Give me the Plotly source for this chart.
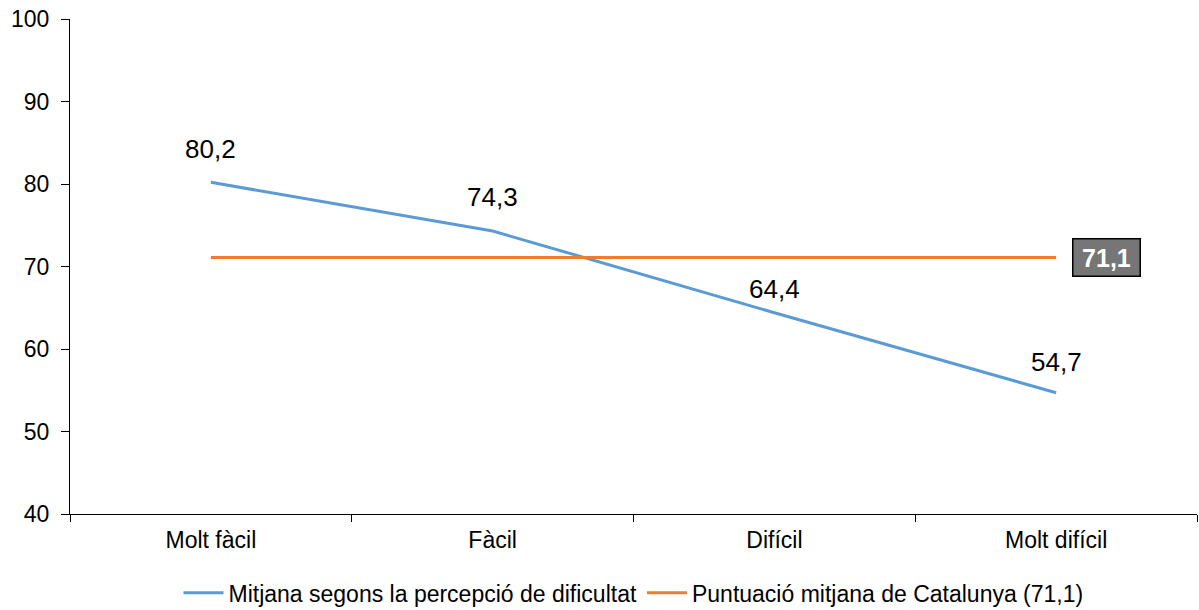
import plotly.graph_objects as go

categories = ["Molt fàcil", "Fàcil", "Difícil", "Molt difícil"]
mitjana_values = [80.2, 74.3, 64.4, 54.7]
catalunya_value = 71.1
y_ticks = [40, 50, 60, 70, 80, 90, 100]

# vertical offset (px) of each data label above its point
label_shifts = [33, 34, 24, 31]

FONT = "Arial, 'Liberation Sans', sans-serif"


def fmt(v):
    return f"{v:.1f}".replace(".", ",")


fig = go.Figure()

fig.add_trace(
    go.Scatter(
        x=categories,
        y=mitjana_values,
        mode="lines",
        name="Mitjana segons la percepció de dificultat",
        line={"color": "#5B9BD5", "width": 3},
    )
)

fig.add_trace(
    go.Scatter(
        x=categories,
        y=[catalunya_value] * len(categories),
        mode="lines",
        name="Puntuació mitjana de Catalunya (71,1)",
        line={"color": "#ED7D31", "width": 3},
    )
)

for cat, val, shift in zip(categories, mitjana_values, label_shifts):
    fig.add_annotation(
        x=cat,
        y=val,
        text=fmt(val),
        showarrow=False,
        yshift=shift,
        font={"size": 26, "color": "#000000", "family": FONT},
    )

fig.add_annotation(
    x=categories[-1],
    y=catalunya_value,
    text=f"<b>{fmt(catalunya_value)}</b>",
    showarrow=False,
    xanchor="left",
    xshift=16,
    width=60,
    height=30,
    font={"size": 25, "color": "#ffffff", "family": FONT},
    bgcolor="#767676",
    bordercolor="#000000",
    borderwidth=1.5,
    borderpad=3,
)

fig.update_xaxes(
    type="category",
    range=[-0.5, 3.5],
    tickson="boundaries",
    ticks="outside",
    ticklen=7,
    ticklabelstandoff=5,
    tickcolor="#000000",
    showline=True,
    linecolor="#000000",
    linewidth=1,
    showgrid=False,
    tickfont={"size": 23, "color": "#000000", "family": FONT},
)
fig.update_yaxes(
    range=[40, 100],
    tickvals=y_ticks,
    ticks="outside",
    ticklen=8,
    ticklabelstandoff=7,
    tickcolor="#000000",
    showline=True,
    linecolor="#000000",
    linewidth=1,
    showgrid=False,
    zeroline=False,
    tickfont={"size": 23, "color": "#000000", "family": FONT},
)
fig.update_layout(
    width=1199,
    height=610,
    margin={"l": 70, "r": 2, "t": 19, "b": 96},
    plot_bgcolor="#ffffff",
    paper_bgcolor="#ffffff",
    font={"family": FONT, "color": "#000000"},
    showlegend=True,
    legend={
        "orientation": "h",
        "x": 0.5,
        "xanchor": "center",
        "yref": "container",
        "y": 0.028,
        "yanchor": "middle",
        "font": {"size": 23, "family": FONT},
        "itemwidth": 40,
    },
)

fig.write_html(
    "out.html",
    config={"displayModeBar": False},
    post_script="document.body.style.margin = '0';",
)
